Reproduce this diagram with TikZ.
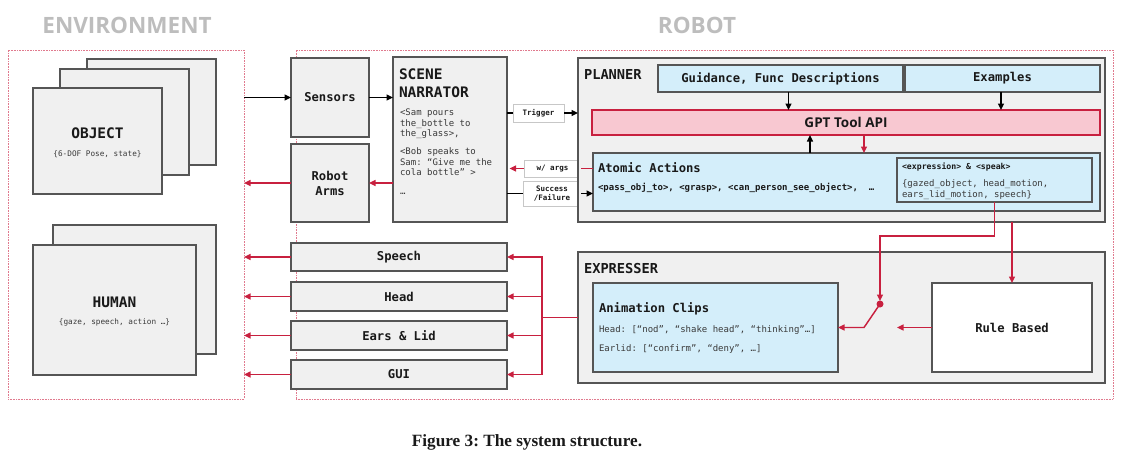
\documentclass[tikz,border=0pt]{standalone}
\usepackage{fontspec}
\setmonofont{DejaVu Sans Mono}
\newfontfamily\opensans{Open Sans}
\newfontfamily\serifcap{Liberation Serif}
\usetikzlibrary{arrows.meta,calc}
\definecolor{boxgray}{HTML}{F0F0F0}
\definecolor{boxline}{HTML}{555555}
\definecolor{lblue}{HTML}{D4EEFA}
\definecolor{lpink}{HTML}{F8C8D1}
\definecolor{myred}{HTML}{C8203F}
\definecolor{framec}{HTML}{E07A8E}
\definecolor{titlegray}{HTML}{BDBDBD}
\definecolor{txtgray}{HTML}{3A3A3A}
\newcommand\fsz[2]{\fontsize{#1}{#2}\selectfont}
\begin{document}
\begin{tikzpicture}[x=1pt,y=1pt,
  every node/.style={inner sep=0pt, outer sep=0pt, text=black!90},
  rect/.style n args={4}{at={(#1,-#2)}, anchor=north west,
     minimum width={#3-#1}, minimum height={#4-#2}},
  box/.style={draw=boxline, line width=1.35pt},
  gbox/.style={box, fill=boxgray},
  bbox/.style={box, fill=lblue},
  wbox/.style={box, fill=white},
  tagbox/.style={draw=black!22, line width=1pt, fill=white, align=center,
     font=\ttfamily\bfseries\fsz{7.5}{9.5}},
  frame/.style={draw=framec, dash pattern=on 0.8pt off 0.8pt, line width=1pt},
  lbl/.style={font=\ttfamily\bfseries\fsz{12.2}{15}, align=center},
  big/.style={font=\ttfamily\bfseries\fsz{14.5}{18}},
  mid/.style={font=\ttfamily\bfseries\fsz{13.7}{17}},
  small/.style={font=\ttfamily\fsz{9}{10.5}, text=txtgray},
  arr/.style={-{Triangle[length=6.5pt,width=6pt]}, line width=1.45pt},
  blk/.style={arr, draw=black},
  redarr/.style={arr, draw=myred},
  redline/.style={line width=1.45pt, draw=myred},
  blkline/.style={line width=1.45pt, draw=black},
]
\useasboundingbox (0,0) rectangle (1122,-461);

% titles
\node[font=\opensans\bfseries\fsz{22.5}{26}, text=titlegray, anchor=base] (tenv) at (127,-33) {ENVIRONMENT};
\node[font=\opensans\bfseries\fsz{22.5}{26}, text=titlegray, anchor=base] (trob) at (697,-33) {ROBOT};

% frames
\node[frame, rect={8}{50}{244}{399}] (envframe) {};
\node[frame, rect={296}{50}{1113}{399}] (robframe) {};

% object stack
\node[gbox, rect={87}{59}{216}{165}] (obj3) {};
\node[gbox, rect={60}{69}{189}{175}] (obj2) {};
\node[gbox, rect={33}{88}{162}{194}] (obj1) {};
\node[big] (objt) at (97.5,-133) {OBJECT};
\node[font=\ttfamily\fsz{7.7}{9}, text=txtgray] (objs) at (97.5,-154) {\{6-DOF Pose, state\}};

% human stack
\node[gbox, rect={53}{225}{216}{354}] (hum2) {};
\node[gbox, rect={33}{245}{196}{375}] (hum1) {};
\node[big] (humt) at (114.5,-302) {HUMAN};
\node[font=\ttfamily\fsz{7.7}{9}, text=txtgray] (hums) at (114.5,-322) {\{gaze, speech, action …\}};

% sensors, arms, narrator
\node[gbox, lbl, rect={291}{58}{369}{137}] (sensors) {Sensors};
\node[gbox, lbl, rect={291}{144}{369}{222}] (arms) {Robot\\Arms};
\node[gbox, rect={393}{57}{507}{222}] (narr) {};
\node[big, anchor=west] (nt1) at (399,-74) {SCENE};
\node[big, anchor=west] (nt2) at (399,-92) {NARRATOR};
\node[small, anchor=north west, align=left] (nbody) at (400,-109)
  {<Sam pours\\the\_bottle to\\the\_glass>,\\[7.5pt]<Bob speaks to\\Sam: “Give me the\\cola bottle” >\\[8pt]…};

% tags
\node[tagbox, rect={513}{104}{564}{122}] (trigger) {Trigger};
\node[tagbox, rect={524}{160}{581}{177}] (wargs) {w/ args};
\node[tagbox, rect={523}{181}{581}{206}] (success) {Success\\/Failure};

% planner
\node[gbox, rect={578}{58}{1105}{222}] (planner) {};
\node[mid, anchor=west] (plt) at (584,-75) {PLANNER};
\node[bbox, lbl, rect={658}{65}{903}{92}] (guid) {Guidance, Func Descriptions};
\node[bbox, lbl, rect={905}{65}{1100}{92}] (examples) {Examples};
\node[box, draw=myred, fill=lpink, rect={592}{110}{1100}{135},
      font=\opensans\bfseries\fsz{13.5}{16}] (gpt) {GPT Tool API};
\node[bbox, rect={593}{153}{1100}{211}] (atomic) {};
\node[lbl, anchor=west] (att) at (598,-168) {Atomic Actions};
\node[font=\ttfamily\bfseries\fsz{9}{10.5}, anchor=west] (atl) at (598,-188)
  {<pass\_obj\_to>, <grasp>, <can\_person\_see\_object>,~ …};
\node[bbox, rect={897}{158}{1092}{202}] (inner) {};
\node[font=\ttfamily\bfseries\fsz{8.2}{10}, anchor=west] (inl1) at (902,-167) {<expression> \& <speak>};
\node[small, anchor=north west, align=left] (inl2) at (902,-180)
  {\{gazed\_object, head\_motion,\\ears\_lid\_motion, speech\}};

% expresser
\node[gbox, rect={578}{252}{1105}{383}] (expr) {};
\node[mid, anchor=west] (ext) at (584,-269) {EXPRESSER};
\node[bbox, rect={593}{283}{838}{372}] (anim) {};
\node[lbl, anchor=west] (ant) at (599,-309) {Animation Clips};
\node[small, anchor=west] (an1) at (599,-330) {Head: [“nod”, “shake head”, “thinking”…]};
\node[small, anchor=west] (an2) at (599,-349) {Earlid: [“confirm”, “deny”, …]};
\node[wbox, lbl, rect={932}{283}{1092}{372}] (rule) {Rule Based};

% output boxes
\node[gbox, lbl, rect={291}{243}{507}{271}] (speech) {Speech};
\node[gbox, lbl, rect={291}{282}{507}{311}] (head) {Head};
\node[gbox, lbl, rect={291}{321}{507}{350}] (ears) {Ears \& Lid};
\node[gbox, lbl, rect={291}{360}{507}{389}] (gui) {GUI};

% coordinates
\coordinate (bus) at (542,-317.5);
\coordinate (dot) at (880,-304);
\coordinate (sw) at (864,-327.5);
\coordinate (ruletip) at (897,-327.5);

% connectors: environment / sensors / narrator
\draw[blk] (envframe.east |- sensors.west) -- (sensors.west);
\draw[blk] (sensors.east) -- (sensors.east -| narr.west);
\draw[redarr] (narr.west |- arms.east) -- (arms.east);
\draw[redarr] (arms.west) -- (arms.west -| envframe.east);

% narrator / planner tags
\draw[blkline] (trigger.west -| narr.east) -- (trigger.west);
\draw[blk] (trigger.east) -- (trigger.east -| planner.west);
\draw[redline] (atomic.west |- wargs.east) -- (wargs.east);
\draw[redarr, shorten >=2.5pt] (wargs.west) -- (wargs.west -| narr.east);
\draw[blkline] (success.west -| narr.east) -- (success.west);
\draw[blk] (success.east) -- (success.east -| atomic.west);

% planner internals
\draw[blk] ([xshift=8pt]guid.south) -- ([xshift=8pt]guid.south |- gpt.north);
\draw[blk] ([xshift=-1.5pt]examples.south) -- ([xshift=-1.5pt]examples.south |- gpt.north);
\draw[blk] ([xshift=-36.5pt]atomic.north) -- ([xshift=-36.5pt]atomic.north |- gpt.south);
\draw[redarr] ([xshift=18pt]gpt.south) -- ([xshift=18pt]gpt.south |- atomic.north);

% planner -> expresser
\draw[redarr, shorten >=3pt] (inner.south) -- ++(0,-34) -| (dot);
\fill[myred] (dot) circle (3.5pt);
\draw[redarr] (dot) -- (sw) -- (sw -| anim.east);
\draw[redarr] (rule.north |- planner.south) -- (rule.north);
\draw[redarr] (rule.west) -- (ruletip);

% expresser -> outputs
\draw[redline] (expr.west |- bus) -- (bus);
\draw[redarr] (bus) |- (speech.east);
\draw[redarr] (bus) |- (head.east);
\draw[redarr] (bus) |- (ears.east);
\draw[redarr] (bus) |- (gui.east);

% outputs -> environment
\draw[redarr] (speech.west) -- (speech.west -| envframe.east);
\draw[redarr] (head.west) -- (head.west -| envframe.east);
\draw[redarr] (ears.west) -- (ears.west -| envframe.east);
\draw[redarr] (gui.west) -- (gui.west -| envframe.east);

% caption
\node[font=\serifcap\bfseries\fsz{17.2}{20}, anchor=base] (cap) at (527,-446) {\frenchspacing Figure 3: The system structure.};
\end{tikzpicture}
\end{document}
